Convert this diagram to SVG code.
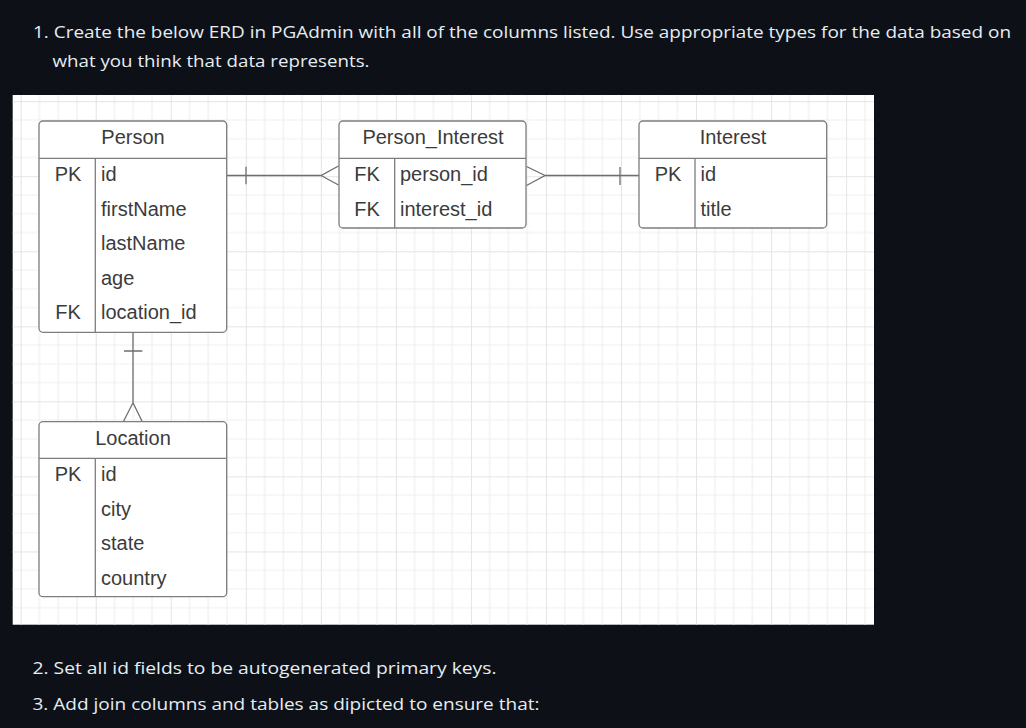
<svg xmlns="http://www.w3.org/2000/svg" width="1026" height="728" viewBox="0 0 1026 728">
  <style>
    .doc { font-family: "Open Sans", "Noto Sans", "DejaVu Sans", sans-serif; font-size: 17px; fill: #e6edf3; }
    .box { fill: #ffffff; stroke: #7d7d7d; stroke-width: 1.3; }
    .div { stroke: #7d7d7d; stroke-width: 1.3; fill: none; }
    .t { font-family: "Liberation Sans", Arial, sans-serif; font-size: 20px; fill: #3b3b3b; }
    .h { text-anchor: middle; }
    .k { text-anchor: middle; }
    .conn { stroke: #6e6e6e; stroke-width: 1.3; fill: none; }
  </style>
  <defs>
    <pattern id="grid" patternUnits="userSpaceOnUse" x="20.7" y="101.2" width="75.04" height="75.04">
      <path d="M18.76 0V75.04M37.52 0V75.04M56.28 0V75.04M0 18.76H75.04M0 37.52H75.04M0 56.28H75.04" stroke="#efefef" stroke-width="1.2" fill="none"/>
      <path d="M0 0V75.04M0 0H75.04" stroke="#e4e4e4" stroke-width="2" fill="none"/>
    </pattern>
  </defs>
  <rect x="0" y="0" width="1026" height="728" fill="#0d1117"/>
  <text class="doc" x="33" y="37.5" textLength="978" lengthAdjust="spacingAndGlyphs">1. Create the below ERD in PGAdmin with all of the columns listed. Use appropriate types for the data based on</text>
  <text class="doc" x="52.5" y="67" textLength="317" lengthAdjust="spacingAndGlyphs">what you think that data represents.</text>

  <rect x="12.7" y="95" width="861.3" height="529.7" fill="#ffffff"/>
  <rect x="12.7" y="95" width="861.3" height="529.7" fill="url(#grid)"/>

  <g id="connectors">
    <path class="conn" d="M226.7 175.5H321L338.5 166M321 175.5L338.5 185M246 166.7V184.3"/>
    <path class="conn" d="M526.5 166.5L545 175.5L526.5 185.5M545 175.5H639M620 167V185"/>
    <path class="conn" d="M133 332.3V402.7L123.3 421.7M133 402.7L142.3 421.7M124 351H142.3"/>
  </g>

  <g id="person">
    <rect class="box" x="39" y="121" width="187.7" height="211.3" rx="4"/>
    <path class="div" d="M39 158.3H226.7M95.3 158.3V332.3"/>
    <text class="t h" x="133" y="144.3">Person</text>
    <text class="t k" x="68" y="181">PK</text>
    <text class="t" x="101" y="181">id</text>
    <text class="t" x="101" y="215.5">firstName</text>
    <text class="t" x="101" y="250">lastName</text>
    <text class="t" x="101" y="284.5">age</text>
    <text class="t k" x="68" y="319">FK</text>
    <text class="t" x="101" y="319">location_id</text>
  </g>

  <g id="person_interest">
    <rect class="box" x="339" y="121" width="187" height="107" rx="4"/>
    <path class="div" d="M339 158.3H526M394.7 158.3V228"/>
    <text class="t h" x="433" y="144.3">Person_Interest</text>
    <text class="t k" x="367" y="181">FK</text>
    <text class="t" x="400" y="181">person_id</text>
    <text class="t k" x="367" y="215.5">FK</text>
    <text class="t" x="400" y="215.5">interest_id</text>
  </g>

  <g id="interest">
    <rect class="box" x="639" y="121" width="187.7" height="107" rx="4"/>
    <path class="div" d="M639 158.3H826.7M695 158.3V228"/>
    <text class="t h" x="733" y="144.3">Interest</text>
    <text class="t k" x="668" y="181">PK</text>
    <text class="t" x="700.5" y="181">id</text>
    <text class="t" x="700.5" y="215.5">title</text>
  </g>

  <g id="location">
    <rect class="box" x="39" y="421.7" width="187.7" height="175" rx="4"/>
    <path class="div" d="M39 458.3H226.7M95.3 458.3V596.7"/>
    <text class="t h" x="133" y="444.5">Location</text>
    <text class="t k" x="68" y="481">PK</text>
    <text class="t" x="101" y="481">id</text>
    <text class="t" x="101" y="515.5">city</text>
    <text class="t" x="101" y="550">state</text>
    <text class="t" x="101" y="584.5">country</text>
  </g>

  <text class="doc" x="32.5" y="674" textLength="464" lengthAdjust="spacingAndGlyphs">2. Set all id fields to be autogenerated primary keys.</text>
  <text class="doc" x="32.5" y="710" textLength="507" lengthAdjust="spacingAndGlyphs">3. Add join columns and tables as dipicted to ensure that:</text>
</svg>
